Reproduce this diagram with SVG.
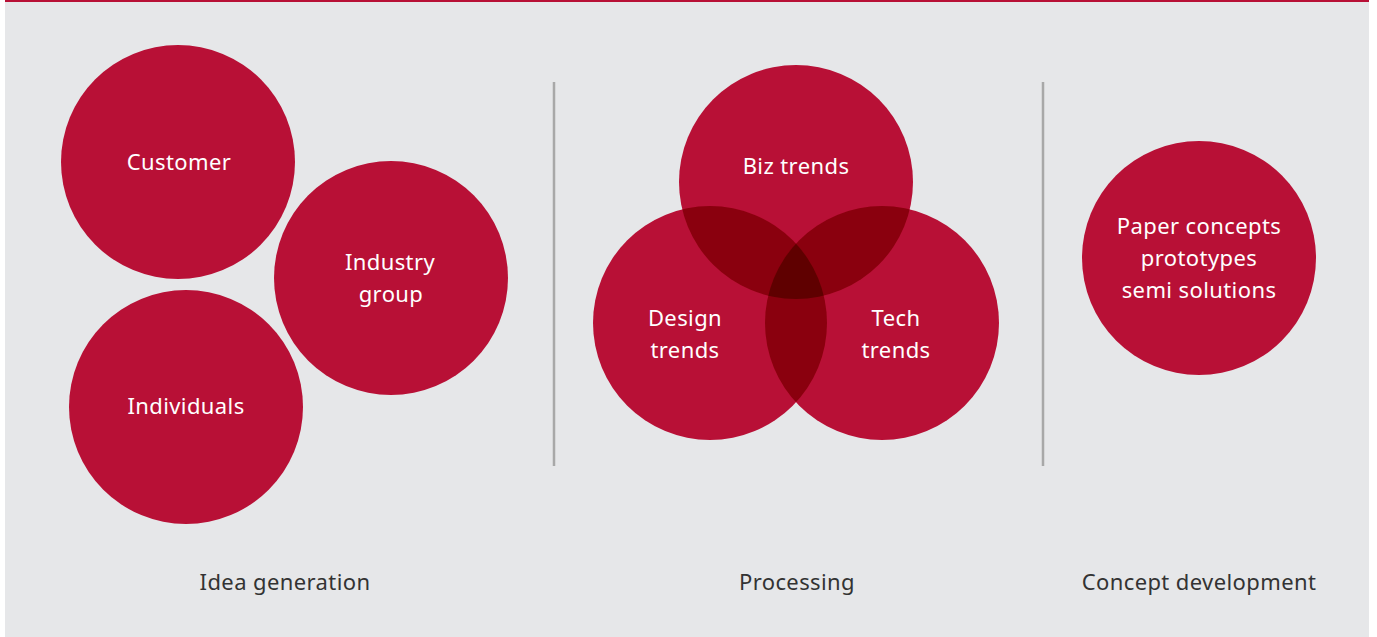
<svg xmlns="http://www.w3.org/2000/svg" width="1377" height="637" viewBox="0 0 1377 637">
<style>
.c{fill:#b81036}
.o2{fill:#8a000e}
.o3{fill:#5f0000}
.t{font-family:"Noto Sans","Open Sans",sans-serif;font-size:22px;letter-spacing:0.4px;fill:#ffffff;text-anchor:middle}
.l{font-family:"Noto Sans","Open Sans",sans-serif;font-size:22px;letter-spacing:0.4px;fill:#333333;text-anchor:middle}
.sep{stroke:#a8a8a8;stroke-width:2.5}
</style>
<defs>
<clipPath id="cpBiz"><circle cx="796" cy="182" r="117"/></clipPath>
<clipPath id="cpDes"><circle cx="710" cy="323" r="117"/></clipPath>
<clipPath id="cpTech"><circle cx="882" cy="323" r="117"/></clipPath>
</defs>
<rect x="0" y="0" width="1377" height="637" fill="#ffffff"/>
<rect x="5" y="0" width="1364" height="637" fill="#e6e7e9"/>
<rect x="5" y="0" width="1364" height="2" fill="#b81036"/>
<g id="connectors">
<line class="sep" x1="554" y1="82" x2="554" y2="466"/>
<line class="sep" x1="1043" y1="82" x2="1043" y2="466"/>
</g>
<g id="customer"><circle class="c" cx="178" cy="162" r="117"/><text class="t" x="179" y="170">Customer</text></g>
<g id="industry"><circle class="c" cx="391" cy="278" r="117"/><text class="t" x="390" y="270">Industry</text><text class="t" x="391" y="302">group</text></g>
<g id="individuals"><circle class="c" cx="186" cy="407" r="117"/><text class="t" x="186" y="414">Individuals</text></g>
<g id="biz"><circle class="c" cx="796" cy="182" r="117"/></g>
<g id="design"><circle class="c" cx="710" cy="323" r="117"/></g>
<g id="tech"><circle class="c" cx="882" cy="323" r="117"/></g>
<g id="overlaps">
<circle class="o2" cx="710" cy="323" r="117" clip-path="url(#cpBiz)"/>
<circle class="o2" cx="882" cy="323" r="117" clip-path="url(#cpBiz)"/>
<circle class="o2" cx="882" cy="323" r="117" clip-path="url(#cpDes)"/>
<g clip-path="url(#cpBiz)"><circle class="o3" cx="882" cy="323" r="117" clip-path="url(#cpDes)"/></g>
</g>
<g id="venn-labels">
<text class="t" x="796" y="174">Biz trends</text>
<text class="t" x="685" y="326">Design</text><text class="t" x="685" y="358">trends</text>
<text class="t" x="896" y="326">Tech</text><text class="t" x="896" y="358">trends</text>
</g>
<g id="concept"><circle class="c" cx="1199" cy="258" r="117"/><text class="t" x="1199" y="234">Paper concepts</text><text class="t" x="1199" y="266">prototypes</text><text class="t" x="1199" y="298">semi solutions</text></g>
<g id="labels">
<text class="l" x="285" y="590">Idea generation</text>
<text class="l" x="797" y="590">Processing</text>
<text class="l" x="1199" y="590">Concept development</text>
</g>
</svg>
